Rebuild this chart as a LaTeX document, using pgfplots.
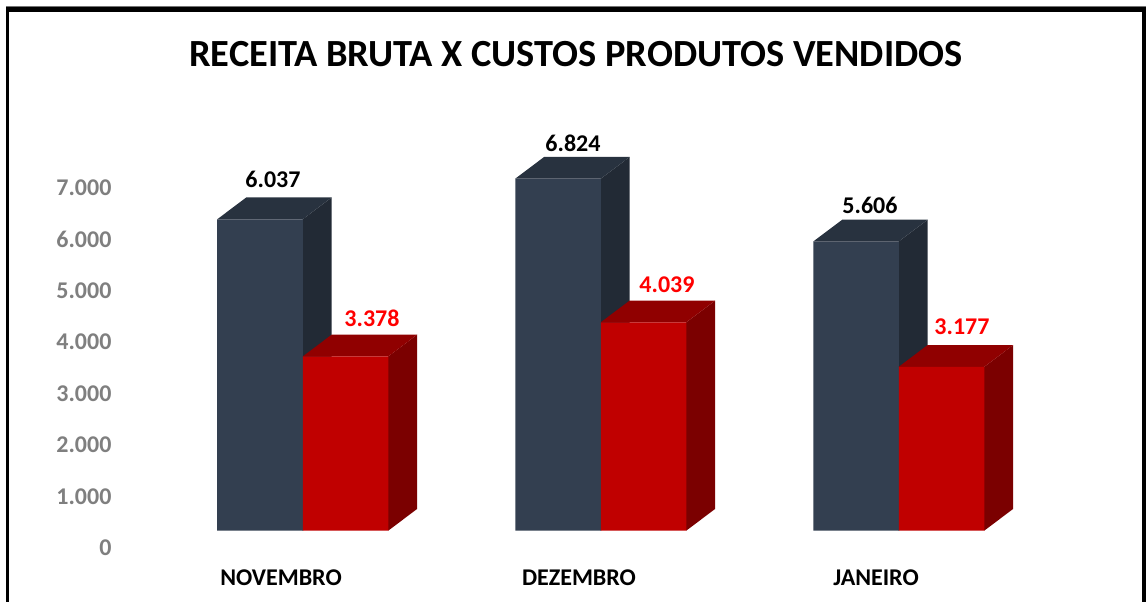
\documentclass[border=0pt]{standalone}
\usepackage{fontspec}
\setmainfont{Carlito}
\usepackage{pgfplots}
\pgfplotsset{compat=1.18}
\definecolor{darkfront}{HTML}{333F50}
\definecolor{darkside}{HTML}{222A35}
\definecolor{darktop}{HTML}{28323F}
\definecolor{redfront}{HTML}{C00000}
\definecolor{redside}{HTML}{7B0000}
\definecolor{redtop}{HTML}{900000}
\definecolor{ticktext}{HTML}{7F7F7F}
\pgfplotsset{
  front/.style={ybar, bar width=85.5, bar shift=0pt, draw=none},
  face/.style={fill=#1, draw=none, forget plot},
}
\begin{document}
\begin{tikzpicture}[x=0.75pt, y=0.75pt]
% picture is 1147 x 602 px, 1 px = 0.75pt
\useasboundingbox (0,0) rectangle (1147,602);
\fill[black!55] (6,594) rectangle (1146,595.5);
\fill[black] (6,590) rectangle (1146,595);
\fill[black] (6,0) rectangle (9,595);
\fill[black] (1142,0) rectangle (1146,595);
\begin{axis}[
  at={(88.5pt,31.5pt)}, anchor=south west,
  scale only axis, width=771.75pt, height=420pt,
  xmin=118, xmax=1147, ymin=-568, ymax=10289,
  clip=false,
  axis lines=left,
  axis line style={draw=none},
  tick style={draw=none},
  scaled ticks=false,
  xtick={281,579,876},
  xticklabels={NOVEMBRO,DEZEMBRO,JANEIRO},
  ytick={-329,668,1665,2662,3659,4656,5653,6650},
  yticklabels={0,{1.000},{2.000},{3.000},{4.000},{5.000},{6.000},{7.000}},
  xticklabel style={font=\fontsize{18}{18}\selectfont\bfseries, text=black, yshift=-2pt},
  yticklabel style={font=\fontsize{18}{18}\selectfont\bfseries, text=ticktext, anchor=east, xshift=0.75pt},
]
% dark bars: side and top faces, then front
\addplot[face=darkside] coordinates {(302.7,6037) (331.7,6460) (331.7,423) (302.7,0)} -- cycle;
\addplot[face=darktop] coordinates {(217.2,6037) (246.2,6460) (331.7,6460) (302.7,6037)} -- cycle;
\addplot[face=darkside] coordinates {(600.7,6824) (629.7,7247) (629.7,423) (600.7,0)} -- cycle;
\addplot[face=darktop] coordinates {(515.2,6824) (544.2,7247) (629.7,7247) (600.7,6824)} -- cycle;
\addplot[face=darkside] coordinates {(898.7,5606) (927.7,6029) (927.7,423) (898.7,0)} -- cycle;
\addplot[face=darktop] coordinates {(813.2,5606) (842.2,6029) (927.7,6029) (898.7,5606)} -- cycle;
\addplot[front, fill=darkfront] coordinates {(260,6037) (558,6824) (856,5606)};
% red bars
\addplot[face=redside] coordinates {(388.2,3378) (417.2,3801) (417.2,423) (388.2,0)} -- cycle;
\addplot[face=redtop] coordinates {(302.7,3378) (331.7,3801) (417.2,3801) (388.2,3378)} -- cycle;
\addplot[face=redside] coordinates {(686.2,4039) (715.2,4462) (715.2,423) (686.2,0)} -- cycle;
\addplot[face=redtop] coordinates {(600.7,4039) (629.7,4462) (715.2,4462) (686.2,4039)} -- cycle;
\addplot[face=redside] coordinates {(984.2,3177) (1013.2,3600) (1013.2,423) (984.2,0)} -- cycle;
\addplot[face=redtop] coordinates {(898.7,3177) (927.7,3600) (1013.2,3600) (984.2,3177)} -- cycle;
\addplot[front, fill=redfront] coordinates {(345.5,3378) (643.5,4039) (941.5,3177)};
% value labels
\begin{scope}[every node/.style={font=\fontsize{18}{18}\selectfont\bfseries, inner sep=0pt}]
\node[text=black] at (axis cs:273,6819) {6.037};
\node[text=black] at (axis cs:573,7516) {6.824};
\node[text=black] at (axis cs:870,6314) {5.606};
\node[text=red] at (axis cs:372,4124) {3.378};
\node[text=red] at (axis cs:667,4763) {4.039};
\node[text=red] at (axis cs:962,3949) {3.177};
\end{scope}
\node[font=\fontsize{28.8}{28.8}\selectfont\bfseries, inner sep=0pt] at (axis cs:576,9242) {RECEITA BRUTA X CUSTOS PRODUTOS VENDIDOS};
\end{axis}
\end{tikzpicture}
\end{document}
